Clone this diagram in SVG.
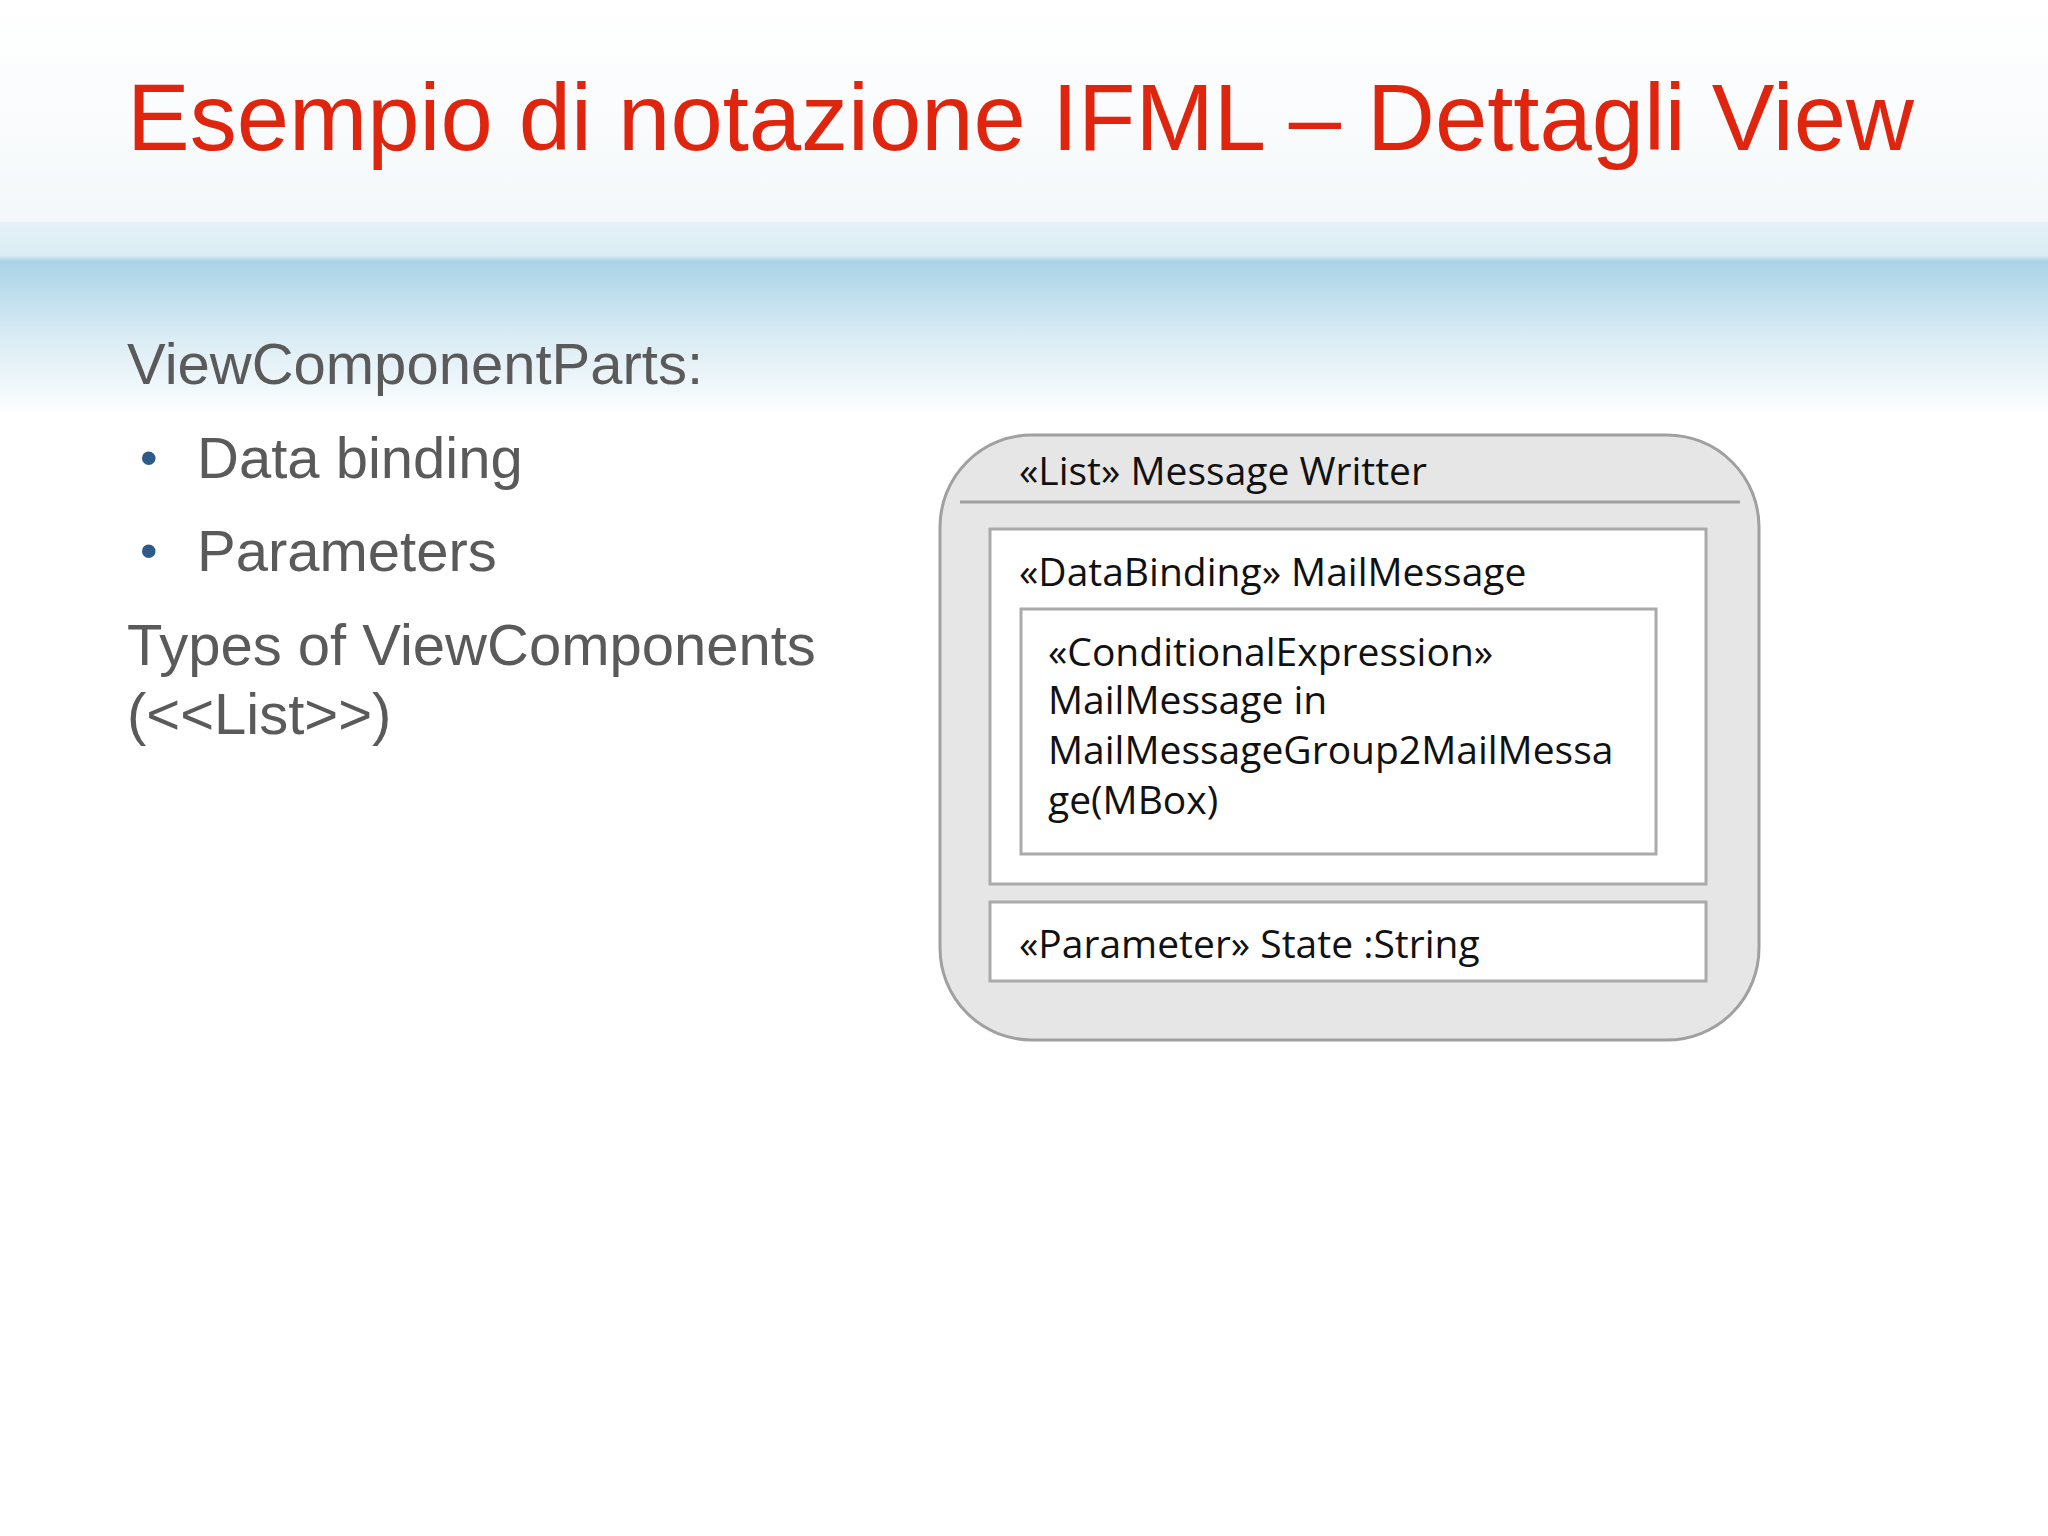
<svg xmlns="http://www.w3.org/2000/svg" width="2048" height="1536" viewBox="0 0 2048 1536">
<defs>
<linearGradient id="band" x1="0" y1="0" x2="0" y2="1">
<stop offset="0" stop-color="#e4f1f7"/>
<stop offset="0.17" stop-color="#dcedf5"/>
<stop offset="0.2" stop-color="#a9d3e6"/>
<stop offset="0.55" stop-color="#d6eaf3"/>
<stop offset="1" stop-color="#ffffff"/>
</linearGradient>
<linearGradient id="top" x1="0" y1="0" x2="0" y2="1">
<stop offset="0" stop-color="#ffffff"/>
<stop offset="1" stop-color="#f4f8fa"/>
</linearGradient>
</defs>
<style>
.l{font-family:"Liberation Sans",Arial,sans-serif;font-size:58px;fill:#5a5a5a}
.d{font-family:"Open Sans","DejaVu Sans",sans-serif;font-size:39px;fill:#111}
.b{fill:#fff;stroke:#aaa;stroke-width:3}
</style>
<rect width="2048" height="1536" fill="#fff"/>
<rect width="2048" height="222" fill="url(#top)"/>
<rect y="222" width="2048" height="196" fill="url(#band)"/>
<text x="127" y="150" font-family="Liberation Sans,Arial,sans-serif" font-size="94" fill="#e0250f">Esempio di notazione IFML – Dettagli View</text>
<text class="l" x="127" y="384">ViewComponentParts:</text>
<text x="140" y="475" font-family="Liberation Sans,sans-serif" font-size="50" fill="#2e5a8a">•</text>
<text class="l" x="197" y="478">Data binding</text>
<text x="140" y="568" font-family="Liberation Sans,sans-serif" font-size="50" fill="#2e5a8a">•</text>
<text class="l" x="197" y="571">Parameters</text>
<text class="l" x="127" y="665">Types of ViewComponents</text>
<text class="l" x="127" y="734">(&lt;&lt;List&gt;&gt;)</text>
<g id="list">
<rect x="940" y="435" width="819" height="605" rx="92" fill="#e6e6e7" stroke="#a0a0a0" stroke-width="3"/>
<line x1="960" y1="502" x2="1740" y2="502" stroke="#a0a0a0" stroke-width="3"/>
<text class="d" x="1019" y="485">«List» Message Writter</text>
</g>
<g id="databinding">
<rect class="b" x="990" y="529" width="716" height="355"/>
<text class="d" x="1019" y="586">«DataBinding» MailMessage</text>
</g>
<g id="condexpr">
<rect class="b" x="1021" y="609" width="635" height="245"/>
<text class="d" x="1048" y="666">«ConditionalExpression»</text>
<text class="d" x="1048" y="714">MailMessage in</text>
<text class="d" x="1048" y="764">MailMessageGroup2MailMessa</text>
<text class="d" x="1048" y="814">ge(MBox)</text>
</g>
<g id="parameter">
<rect class="b" x="990" y="902" width="716" height="79"/>
<text class="d" x="1019" y="958">«Parameter» State :String</text>
</g>
<g id="connectors"/>
</svg>
